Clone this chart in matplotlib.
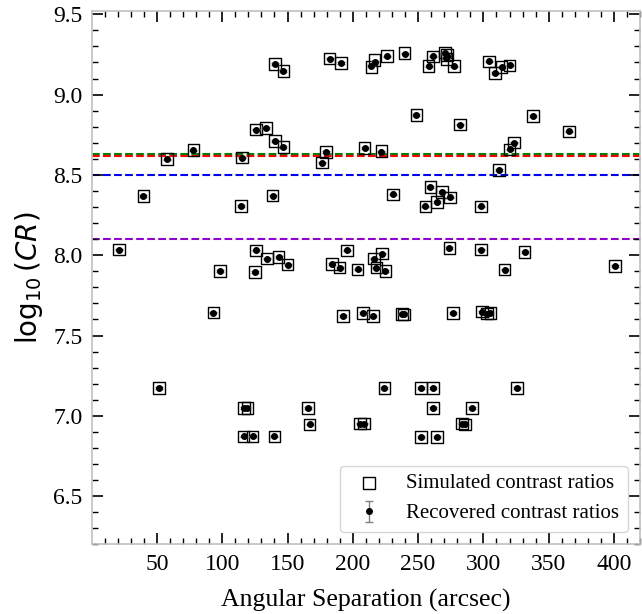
import matplotlib
matplotlib.use('Agg')
import matplotlib.pyplot as plt
from matplotlib.ticker import MultipleLocator

# Angular separation (arcsec)
sep = [140.6, 146.9, 182.2, 190.9, 214.2, 216.7, 226.2, 239.7, 258.1, 261.5,
       270.5, 271.7, 272.0, 277.3, 304.1, 308.7, 313.9, 320.0,
       248.7, 281.9, 337.9, 365.5, 125.8, 133.4, 140.6, 146.9, 77.9, 57.5,
       115.0, 179.7, 176.4, 209.0, 221.9, 323.3, 320.0, 311.8,
       39.6, 138.5, 114.5, 230.8, 255.6, 259.4, 264.6, 268.4, 274.2, 298.3,
       20.9, 125.8, 134.2, 143.1, 150.0, 98.4, 125.2, 195.5, 184.0, 189.9,
       203.7, 216.0, 222.4, 218.0, 224.9, 274.0, 298.3, 331.5, 316.2, 400.8,
       93.3, 192.5, 207.8, 215.5, 237.5, 239.0, 276.8, 299.0, 302.9, 305.4,
       51.6, 224.2, 252.3, 261.2, 325.9,
       116.8, 119.3, 165.6, 261.2, 291.4,
       166.9, 205.5, 208.5, 285.7, 283.5,
       116.3, 123.2, 140.0, 252.3, 264.6]

# Simulated contrast ratios log10(CR)
sim_cr = [9.19, 9.147, 9.224, 9.197, 9.172, 9.214, 9.24, 9.26, 9.176, 9.238,
          9.262, 9.22, 9.245, 9.176, 9.207, 9.135, 9.172, 9.182,
          8.871, 8.813, 8.867, 8.771, 8.782, 8.792, 8.711, 8.674, 8.653, 8.597,
          8.608, 8.643, 8.577, 8.668, 8.65, 8.701, 8.659, 8.529,
          8.367, 8.371, 8.306, 8.379, 8.304, 8.425, 8.33, 8.393, 8.36, 8.304,
          8.035, 8.030, 7.979, 7.989, 7.941, 7.902, 7.896, 8.030, 7.947, 7.923,
          7.912, 7.979, 8.010, 7.923, 7.900, 8.045, 8.035, 8.020, 7.910, 7.931,
          7.643, 7.621, 7.640, 7.620, 7.635, 7.63, 7.640, 7.650, 7.636, 7.640,
          7.173, 7.173, 7.173, 7.173, 7.173,
          7.048, 7.048, 7.049, 7.049, 7.049,
          6.947, 6.951, 6.951, 6.947, 6.951,
          6.872, 6.872, 6.872, 6.868, 6.868]

# Recovered contrast ratios log10(CR)
rec_cr = [9.19, 9.147, 9.224, 9.197, 9.18, 9.205, 9.238, 9.255, 9.176, 9.238,
          9.258, 9.225, 9.24, 9.176, 9.207, 9.135, 9.172, 9.182,
          8.871, 8.813, 8.867, 8.771, 8.782, 8.792, 8.711, 8.674, 8.653, 8.597,
          8.608, 8.643, 8.577, 8.668, 8.645, 8.701, 8.659, 8.529,
          8.367, 8.371, 8.306, 8.379, 8.304, 8.425, 8.33, 8.393, 8.36, 8.304,
          8.035, 8.030, 7.979, 7.989, 7.941, 7.902, 7.896, 8.030, 7.947, 7.923,
          7.912, 7.979, 8.010, 7.923, 7.900, 8.045, 8.035, 8.020, 7.910, 7.931,
          7.643, 7.621, 7.640, 7.620, 7.632, 7.635, 7.640, 7.645, 7.633, 7.640,
          7.173, 7.173, 7.173, 7.173, 7.173,
          7.048, 7.048, 7.049, 7.049, 7.049,
          6.947, 6.951, 6.951, 6.947, 6.951,
          6.872, 6.872, 6.872, 6.868, 6.868]

rec_err = [0.005] * len(rec_cr)

# Threshold lines (log10 CR) and colours
thresholds = [8.63, 8.62, 8.5, 8.1]
thr_colors = ['green', 'red', 'blue', 'darkviolet']

serif = ['Liberation Serif', 'DejaVu Serif']

fig = plt.figure(figsize=(6.42, 6.14), dpi=100)
ax = fig.add_axes([0.1438, 0.1135, 0.8532, 0.8685])

for yv, c in zip(thresholds, thr_colors):
    ax.axhline(yv, color=c, linestyle='--', linewidth=1.5, zorder=1)

ax.scatter(sep, sim_cr, marker='s', s=70, facecolors='none', edgecolors='black',
           linewidths=1.0, zorder=3, label='Simulated contrast ratios')
ax.errorbar(sep, rec_cr, yerr=rec_err, fmt='o', color='black', markersize=4,
            ecolor='gray', elinewidth=1, capsize=3, zorder=4,
            label='Recovered contrast ratios')

ax.set_xlim(0.5, 420)
ax.set_ylim(6.2, 9.52)

ax.xaxis.set_major_locator(MultipleLocator(50))
ax.xaxis.set_minor_locator(MultipleLocator(10))
ax.yaxis.set_major_locator(MultipleLocator(0.5))
ax.yaxis.set_minor_locator(MultipleLocator(0.1))

ax.tick_params(which='both', direction='in', top=True, right=True, color='black')
ax.tick_params(which='major', length=8, width=1.2, labelsize=17, pad=7)
ax.tick_params(which='minor', length=4, width=1.0)
for lab in ax.get_xticklabels() + ax.get_yticklabels():
    lab.set_family(serif)

for sp in ax.spines.values():
    sp.set_color('#c0c0c0')
    sp.set_linewidth(1.2)

ax.set_xlabel('Angular Separation (arcsec)', fontsize=18.5, family=serif, labelpad=10)
ax.set_ylabel(r'$\log_{10}(CR)$', fontsize=20, labelpad=6)

leg = ax.legend(loc='lower right', prop={'family': serif, 'size': 15},
                frameon=True, fancybox=True, edgecolor='#cccccc',
                borderaxespad=0.6)

fig.savefig('out.png', dpi=100)
